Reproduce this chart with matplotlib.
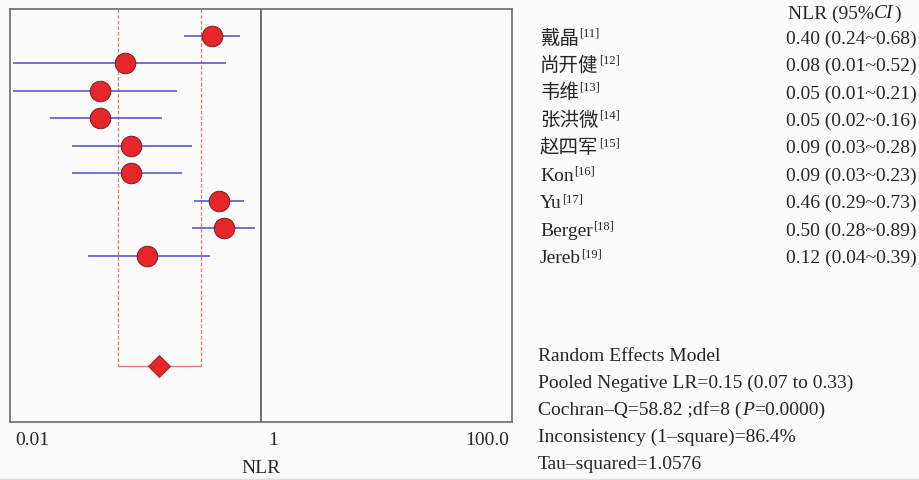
import matplotlib
matplotlib.use("Agg")
import matplotlib.pyplot as plt
from matplotlib.lines import Line2D
from matplotlib.ticker import NullLocator
from matplotlib.transforms import ScaledTranslation, blended_transform_factory

# ---- data ----
studies = ["戴晶", "尚开健", "韦维", "张洪微", "赵四军", "Kon", "Yu", "Berger", "Jereb"]
refs = ["[11]", "[12]", "[13]", "[14]", "[15]", "[16]", "[17]", "[18]", "[19]"]
nlr = [0.40, 0.08, 0.05, 0.05, 0.09, 0.09, 0.46, 0.50, 0.12]
ci_low = [0.24, 0.01, 0.01, 0.02, 0.03, 0.03, 0.29, 0.28, 0.04]
ci_high = [0.68, 0.52, 0.21, 0.16, 0.28, 0.23, 0.73, 0.89, 0.39]

pooled = 0.15
pooled_low = 0.07
pooled_high = 0.33
cochran_q = 58.82
dof = 8
p_value = "0.0000"
inconsistency = 86.4
tau_squared = 1.0576

xtick_values = [0.01, 1, 100]
xtick_labels = ["0.01", "1", "100.0"]

# ---- style ----
W, H, DPI = 919, 480, 100
BG = "#fbfbfb"
TXT = "#262626"
FAM = ["Liberation Serif", "Noto Sans CJK SC"]
FS = 14
RED = "#e5262a"
RED_EDGE = "#7e1c1c"
BLUE = "#4a4ac6"
PINK = "#e07878"

plt.rcParams["font.family"] = FAM

fig = plt.figure(figsize=(W / DPI, H / DPI), dpi=DPI, facecolor=BG)
ax = fig.add_axes([10 / W, 58 / H, 502 / W, 413 / H])
ax.set_facecolor(BG)
ax.set_xscale("log")
ax.set_xlim(10 ** -2.024, 10 ** 2.024)
ymax_row = 15.04
ytop = 0.02
ax.set_ylim(ymax_row, ytop)

rows = list(range(1, len(studies) + 1))
pooled_row = 13

# study confidence intervals and point estimates
ax.hlines(rows, ci_low, ci_high, color=BLUE, lw=1.1, zorder=2)
ax.plot(nlr, rows, "o", ms=14.8, mfc=RED, mec=RED_EDGE, mew=0.7, zorder=3)

# pooled estimate band and diamond
ax.vlines([pooled_low, pooled_high], ytop, pooled_row, colors=PINK,
          linestyles=(0, (3, 1.5)), lw=0.9, zorder=1)
ax.hlines(pooled_row, pooled_low, pooled_high, color=PINK, lw=1.0, zorder=1)
ax.plot([pooled], [pooled_row], "D", ms=10.7, mfc=RED, mec="#a01e1e",
        mew=0.7, zorder=3)

# line of no effect
ax.axvline(1, color="#555555", lw=1.2, zorder=1)

for sp in ax.spines.values():
    sp.set_color("#6a6a6a")
    sp.set_linewidth(1.2)

ax.set_yticks([])
ax.set_xticks(xtick_values, xtick_labels)
ax.xaxis.set_minor_locator(NullLocator())
ax.tick_params(axis="x", length=0, pad=7, labelsize=FS, labelcolor=TXT)
tl = ax.get_xticklabels()
tl[0].set_ha("left")
tl[0].set_transform(tl[0].get_transform() + ScaledTranslation(2 / DPI, 0, fig.dpi_scale_trans))
tl[1].set_transform(tl[1].get_transform() + ScaledTranslation(12 / DPI, 0, fig.dpi_scale_trans))
tl[2].set_ha("right")
ax.set_xlabel("NLR", fontsize=FS, color=TXT, labelpad=8)

# ---- right-hand table ----
base = ScaledTranslation(0, -7.5 / DPI, fig.dpi_scale_trans)
row_trans = blended_transform_factory(fig.transFigure, ax.transData) + base

name_x = 540 / W
value_x = 917 / W

for r, name, ref, v, lo, hi in zip(rows, studies, refs, nlr, ci_low, ci_high):
    t = fig.text(name_x, r, name, transform=row_trans, va="baseline",
                 ha="left", fontsize=FS, color=TXT, family=FAM)
    ax.annotate(ref, xy=(1, 1), xycoords=t, xytext=(0.2, 1.5),
                textcoords="offset points", va="top", ha="left",
                fontsize=9, color=TXT, family=FAM, annotation_clip=False)
    fig.text(value_x, r, f"{v:.2f} ({lo:.2f}~{hi:.2f})", transform=row_trans,
             va="baseline", ha="right", fontsize=FS, color=TXT, family=FAM)


def rich_line(x_px, base_px, pieces):
    """Draw a line of text made of pieces with different styles, left to right."""
    x = x_px / W
    y = 1 - base_px / H
    s, st = pieces[0]
    prev = fig.text(x, y, s, va="baseline", ha="left", fontsize=FS,
                    color=TXT, family=FAM, style=st)
    for s, st in pieces[1:]:
        prev = ax.annotate(s, xy=(1, y), xycoords=(prev, "figure fraction"),
                           xytext=(0.2, 0), textcoords="offset points",
                           va="baseline", ha="left", fontsize=FS, color=TXT,
                           family=FAM, style=st, annotation_clip=False)
    return prev


rich_line(788, 18.5, [("NLR (95%", "normal"), ("CI", "italic"), (")", "normal")])

stat_lines = [
    [("Random Effects Model", "normal")],
    [(f"Pooled Negative LR={pooled:.2f} ({pooled_low:.2f} to {pooled_high:.2f})", "normal")],
    [(f"Cochran–Q={cochran_q:.2f} ;df={dof} (", "normal"), ("P", "italic"),
     (f"={p_value})", "normal")],
    [(f"Inconsistency (1–square)={inconsistency:.1f}%", "normal")],
    [(f"Tau–squared={tau_squared:.4f}", "normal")],
]
for i, pieces in enumerate(stat_lines):
    rich_line(538, 361 + 27 * i, pieces)

# thin rule along the bottom edge
fig.add_artist(Line2D([0, 1], [1.5 / H, 1.5 / H], color="#dcdcdc", lw=1.0,
                      transform=fig.transFigure))

fig.savefig("out.png", dpi=DPI, facecolor=BG)
